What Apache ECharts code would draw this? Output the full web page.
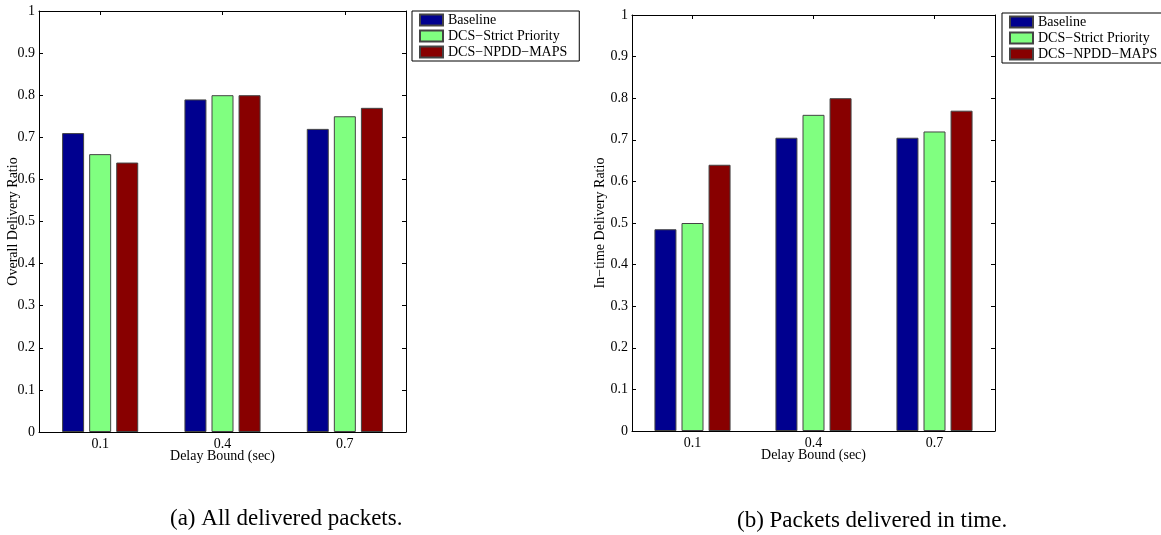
<!DOCTYPE html>
<html>
<head>
<meta charset="utf-8">
<script src="https://cdn.jsdelivr.net/npm/echarts@6/dist/echarts.min.js"></script>
<style>
  html, body { margin: 0; padding: 0; background: #fff; }
  #chart { width: 1161px; height: 535px; }
</style>
</head>
<body>
<div id="chart"></div>
<script>
// 数据
const categories = ['0.1', '0.4', '0.7']
const seriesNames = ['Baseline', 'DCS\u2212Strict Priority', 'DCS\u2212NPDD\u2212MAPS']
const seriesColors = ['#00008f', '#80ff80', '#880000']

// (a) overall delivery ratio
const overallBaseline = [0.71, 0.79, 0.72]
const overallStrict = [0.66, 0.80, 0.75]
const overallNpdd = [0.64, 0.80, 0.77]

// (b) in-time delivery ratio
const intimeBaseline = [0.485, 0.705, 0.705]
const intimeStrict = [0.50, 0.76, 0.72]
const intimeNpdd = [0.64, 0.80, 0.77]

const font = 'Liberation Serif'

const chart = echarts.init(document.getElementById('chart'), null, { renderer: 'canvas' })

function bottomAxis(gridIndex) {
  return {
    type: 'category',
    gridIndex: gridIndex,
    data: categories,
    position: 'bottom',
    name: 'Delay Bound (sec)',
    nameLocation: 'middle',
    nameGap: 17,
    nameMoveOverlap: false,
    nameTextStyle: { fontFamily: font, fontSize: 14, color: '#000' },
    axisLine: { show: true, onZero: false, lineStyle: { color: '#000', width: 1 } },
    axisTick: { show: true, inside: true, alignWithLabel: true, length: 4, lineStyle: { color: '#000' } },
    axisLabel: { fontFamily: font, fontSize: 14, color: '#000', margin: 5 },
    splitLine: { show: false }
  }
}

function topAxis(gridIndex) {
  return {
    type: 'category',
    gridIndex: gridIndex,
    data: categories,
    position: 'top',
    axisLine: { show: true, onZero: false, lineStyle: { color: '#000', width: 1 } },
    axisTick: { show: true, inside: true, alignWithLabel: true, length: 4, lineStyle: { color: '#000' } },
    axisLabel: { show: false },
    splitLine: { show: false }
  }
}

function leftAxis(gridIndex, name, gap) {
  return {
    type: 'value',
    gridIndex: gridIndex,
    position: 'left',
    min: 0,
    max: 1,
    interval: 0.1,
    name: name,
    nameLocation: 'middle',
    nameGap: gap,
    nameMoveOverlap: false,
    nameTextStyle: { fontFamily: font, fontSize: 14, color: '#000' },
    axisLine: { show: true, onZero: false, lineStyle: { color: '#000', width: 1 } },
    axisTick: { show: true, inside: true, length: 4, lineStyle: { color: '#000' } },
    axisLabel: { fontFamily: font, fontSize: 14, color: '#000', margin: 4 },
    splitLine: { show: false }
  }
}

function rightAxis(gridIndex) {
  return {
    type: 'value',
    gridIndex: gridIndex,
    position: 'right',
    min: 0,
    max: 1,
    interval: 0.1,
    axisLine: { show: true, onZero: false, lineStyle: { color: '#000', width: 1 } },
    axisTick: { show: true, inside: true, length: 4, lineStyle: { color: '#000' } },
    axisLabel: { show: false },
    splitLine: { show: false }
  }
}

function barSeries(name, data, color, axisIndex) {
  return {
    name: name,
    type: 'bar',
    xAxisIndex: axisIndex,
    yAxisIndex: axisIndex,
    data: data,
    barWidth: 22,
    barGap: '23%',
    itemStyle: { color: color, borderColor: '#444', borderWidth: 1 },
    emphasis: { disabled: true }
  }
}

function legendAt(left, top) {
  return {
    orient: 'vertical',
    left: left,
    top: top,
    data: seriesNames,
    icon: 'rect',
    itemWidth: 23,
    itemHeight: 11,
    itemGap: 2,
    padding: [2, 12, 2, 7],
    borderColor: '#000',
    borderWidth: 1,
    selectedMode: false,
    textStyle: { fontFamily: font, fontSize: 14, color: '#000' }
  }
}

chart.setOption({
  backgroundColor: '#fff',
  animation: false,
  color: seriesColors,
  title: [
    {
      text: '(a) All delivered packets.',
      left: 170,
      top: 507,
      padding: 0,
      textStyle: { fontFamily: font, fontSize: 23, fontWeight: 'normal', color: '#000' }
    },
    {
      text: '(b) Packets delivered in time.',
      left: 737,
      top: 509,
      padding: 0,
      textStyle: { fontFamily: font, fontSize: 23, fontWeight: 'normal', color: '#000' }
    }
  ],
  legend: [legendAt(412, 11), legendAt(1002, 13)],
  grid: [
    { left: 39, top: 11, width: 367, height: 421, containLabel: false },
    { left: 632, top: 15, width: 363, height: 416, containLabel: false }
  ],
  xAxis: [bottomAxis(0), bottomAxis(1), topAxis(0), topAxis(1)],
  yAxis: [
    leftAxis(0, 'Overall Delivery Ratio', 19),
    leftAxis(1, 'In\u2212time Delivery Ratio', 25),
    rightAxis(0),
    rightAxis(1)
  ],
  series: [
    barSeries(seriesNames[0], overallBaseline, seriesColors[0], 0),
    barSeries(seriesNames[1], overallStrict, seriesColors[1], 0),
    barSeries(seriesNames[2], overallNpdd, seriesColors[2], 0),
    barSeries(seriesNames[0], intimeBaseline, seriesColors[0], 1),
    barSeries(seriesNames[1], intimeStrict, seriesColors[1], 1),
    barSeries(seriesNames[2], intimeNpdd, seriesColors[2], 1)
  ]
})
</script>
</body>
</html>
